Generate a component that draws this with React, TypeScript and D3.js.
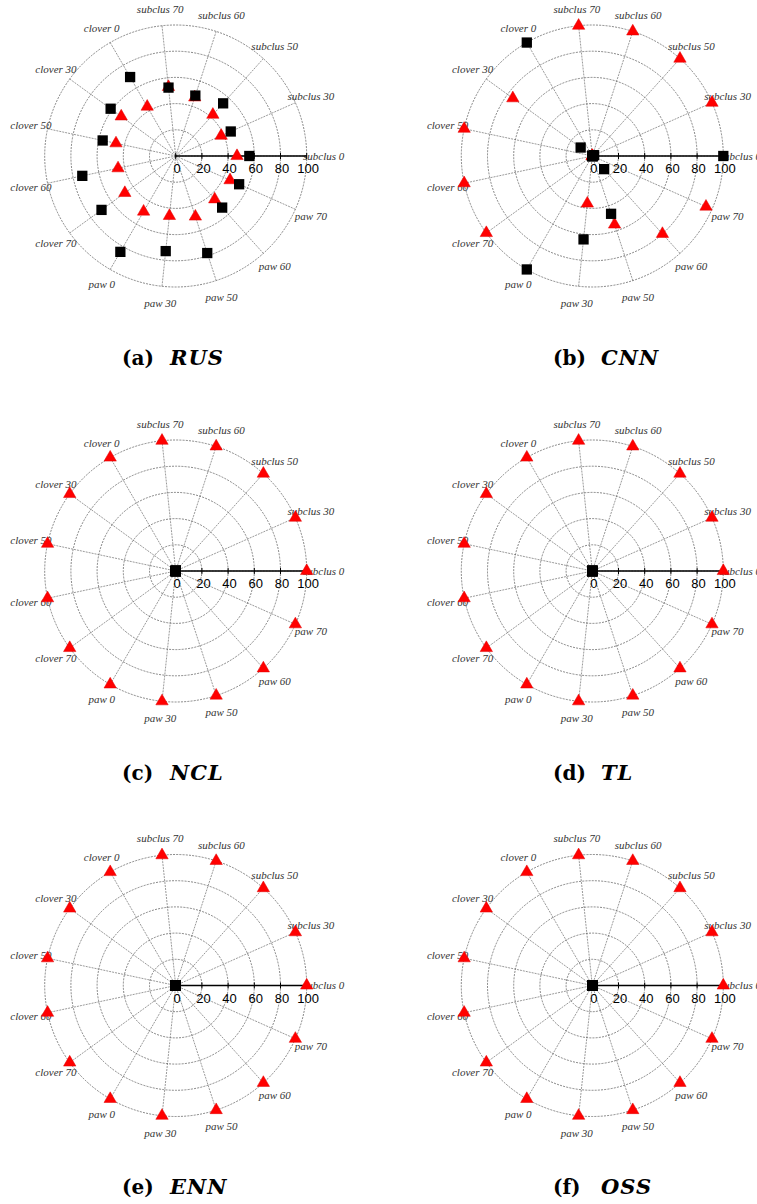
import React from "react";
import * as d3 from "d3";

const categories = [
  "subclus 0", "subclus 30", "subclus 50", "subclus 60", "subclus 70",
  "clover 0", "clover 30", "clover 50", "clover 60", "clover 70",
  "paw 0", "paw 30", "paw 50", "paw 60", "paw 70",
];

const panelLetters = ["(a)", "(b)", "(c)", "(d)", "(e)", "(f)"];
const panelNames = ["RUS", "CNN", "NCL", "TL", "ENN", "OSS"];

// red triangles
const triRUS = [46.8, 38, 42.4, 47, 53, 43.5, 51.4, 46.6, 45, 48, 49, 46, 48.6, 44.5, 45.4];
const triCNN = [0, 100, 100, 100, 100, 0, 75, 100, 100, 100, 0, 36.5, 55, 80, 95];
const triNCL = [100, 100, 100, 100, 100, 100, 100, 100, 100, 100, 100, 100, 100, 100, 100];
const triTL = [100, 100, 100, 100, 100, 100, 100, 100, 100, 100, 100, 100, 100, 100, 100];
const triENN = [100, 100, 100, 100, 100, 100, 100, 100, 100, 100, 100, 100, 100, 100, 100];
const triOSS = [100, 100, 100, 100, 100, 100, 100, 100, 100, 100, 100, 100, 100, 100, 100];

// black squares
const sqRUS = [56.2, 46, 54.1, 48.5, 52.5, 69.6, 61.4, 57, 72.9, 70, 84.5, 73, 77.9, 53, 53];
const sqCNN = [100, 1.5, 0, 0, 0, 100, 11, 0, 0, 0, 100, 64, 46.4, 13.5, 0];
const sqNCL = [0, 0, 0, 0, 0, 0, 0, 0, 0, 0, 0, 0, 0, 0, 0];
const sqTL = [0, 0, 0, 0, 0, 0, 0, 0, 0, 0, 0, 0, 0, 0, 0];
const sqENN = [0, 0, 0, 0, 0, 0, 0, 0, 0, 0, 0, 0, 0, 0, 0];
const sqOSS = [0, 0, 0, 0, 0, 0, 0, 0, 0, 0, 0, 0, 0, 0, 0];

const tickValues = [0, 20, 40, 60, 80, 100];
const ringValues = [20, 40, 60, 80, 100];

const triangles = [triRUS, triCNN, triNCL, triTL, triENN, triOSS];
const squares = [sqRUS, sqCNN, sqNCL, sqTL, sqENN, sqOSS];

const W = 757;
const H = 1204;
const R = 131;
const colX = [175.7, 592.3];
const rowY = [156, 571, 985.5];
const captionX = [122, 553];
const captionY = [365, 780, 1194];

const rScale = d3.scaleLinear().domain([0, 100]).range([0, R]);
const aScale = d3.scaleLinear().domain([0, categories.length]).range([0, 2 * Math.PI]);

const triPath = d3.symbol(d3.symbolTriangle, 66)() as string;
const sqPath = d3.symbol(d3.symbolSquare, 106)() as string;

function pt(v: number, i: number): [number, number] {
  const r = rScale(v);
  const a = aScale(i);
  return [r * Math.cos(a), -r * Math.sin(a)];
}

function Panel({ idx }: { idx: number }) {
  const cx = colX[idx % 2];
  const cy = rowY[Math.floor(idx / 2)];
  const tri = triangles[idx];
  const sq = squares[idx];
  return (
    <g transform={`translate(${cx},${cy})`}>
      {ringValues.map((v) => (
        <circle key={v} r={rScale(v)} fill="none" stroke="#555" strokeWidth={0.7} strokeDasharray="2,1.2" />
      ))}
      {categories.map((c, i) => {
        const [x, y] = pt(100, i);
        return <line key={c} x1={0} y1={0} x2={x} y2={y} stroke="#555" strokeWidth={0.6} strokeDasharray="2,1" />;
      })}
      {categories.map((c, i) => {
        const a = aScale(i);
        const x = 148 * Math.cos(a);
        const y = -148 * Math.sin(a);
        return (
          <text key={c} x={x} y={y} dy="0.35em" textAnchor="middle" fontFamily="'Liberation Serif', serif" fontStyle="italic" fontSize={11} fill="#333">
            {c}
          </text>
        );
      })}
      <line x1={0} y1={0} x2={rScale(100)} y2={0} stroke="#000" strokeWidth={1.4} />
      {tickValues.map((t) => (
        <g key={t}>
          <line x1={rScale(t)} x2={rScale(t)} y1={-3} y2={3} stroke="#000" strokeWidth={1} />
          <text x={rScale(t) + 1.5} y={17} textAnchor="middle" fontFamily="'Liberation Sans', Arial, sans-serif" fontSize={13} fill="#000">
            {t}
          </text>
        </g>
      ))}
      {tri.map((v, i) => {
        const [x, y] = pt(v, i);
        return <path key={"t" + i} d={triPath} transform={`translate(${x},${y})`} fill="#ff0000" stroke="#e00000" strokeWidth={0.5} />;
      })}
      {sq.map((v, i) => {
        const [x, y] = pt(v, i);
        return <path key={"s" + i} d={sqPath} transform={`translate(${x},${y})`} fill="#000" />;
      })}
      <text x={captionX[idx % 2] - cx} y={captionY[Math.floor(idx / 2)] - cy} fontFamily="'DejaVu Serif', serif" fontWeight="bold" fontSize={20} fill="#000">
        {panelLetters[idx]}
      </text>
      <text x={captionX[idx % 2] - cx + 48} y={captionY[Math.floor(idx / 2)] - cy} fontFamily="'DejaVu Serif', serif" fontWeight="bold" fontStyle="italic" fontSize={21} letterSpacing={1} fill="#000">
        {panelNames[idx]}
      </text>
    </g>
  );
}

export default function App() {
  return (
    <div style={{ position: "absolute", left: 0, top: 0, width: W, height: H, background: "#fff" }}>
      <svg width={W} height={H} viewBox={`0 0 ${W} ${H}`} style={{ display: "block" }}>
        <rect width={W} height={H} fill="#fff" />
        {panelNames.map((n, i) => (
          <Panel key={n} idx={i} />
        ))}
      </svg>
    </div>
  );
}
